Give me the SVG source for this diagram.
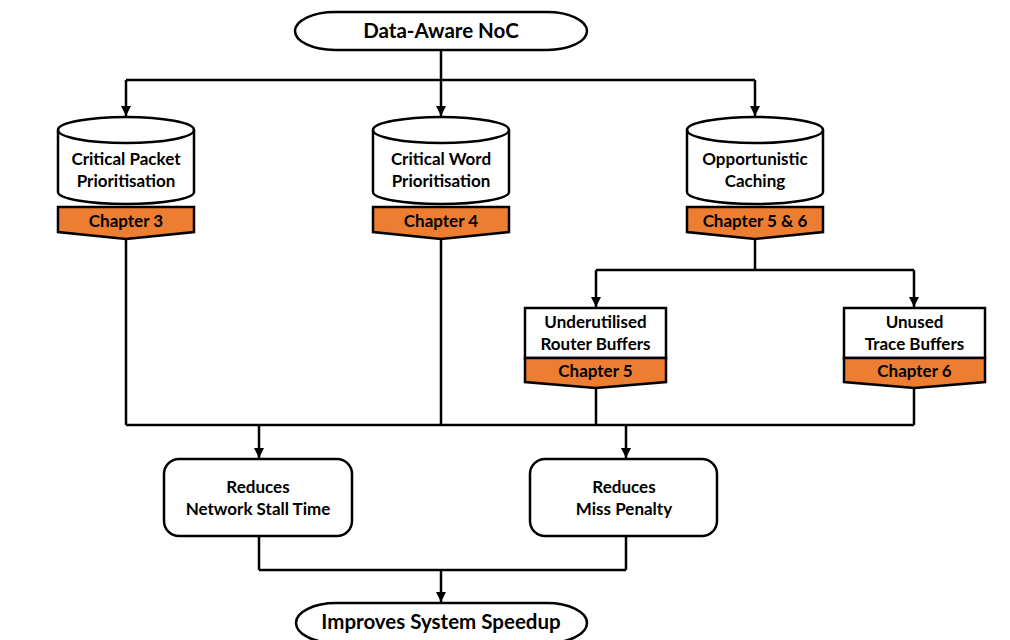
<svg xmlns="http://www.w3.org/2000/svg" width="1010" height="640" viewBox="0 0 1010 640">
  <defs>
    <marker id="arrow" viewBox="0 0 10 10" refX="10" refY="5" markerWidth="10" markerHeight="10" markerUnits="userSpaceOnUse" orient="auto">
      <path d="M0,0 L10,5 L0,10 Z" fill="#000"/>
    </marker>
  </defs>
  <style>
    .shape { fill: #fff; stroke: #000; stroke-width: 2.5; }
    .tag { fill: #ED7D31; stroke: #000; stroke-width: 2.5; stroke-linejoin: miter; }
    .wire { fill: none; stroke: #000; stroke-width: 2.5; }
    .arrow { marker-end: url(#arrow); }
    text { font-family: Lato, "Liberation Sans", sans-serif; font-weight: bold; fill: #000; text-anchor: middle; }
    .t { font-size: 17px; }
    .big { font-size: 20.5px; }
  </style>
  <rect width="1010" height="640" fill="#fff"/>

  <!-- connectors -->
  <g id="connectors">
    <path class="wire" d="M441,50 V80 M126,80 H755"/>
    <path class="wire arrow" d="M126,80 V116"/>
    <path class="wire arrow" d="M441,80 V116"/>
    <path class="wire arrow" d="M755,80 V116"/>
    <path class="wire" d="M755,239 V270 M596,270 H914"/>
    <path class="wire arrow" d="M596,270 V307"/>
    <path class="wire arrow" d="M914,270 V307"/>
    <path class="wire" d="M126,239 V425 M441,239 V425 M596,388 V425 M914,388 V425 M126,425 H914"/>
    <path class="wire arrow" d="M259,425 V458"/>
    <path class="wire arrow" d="M626,425 V458"/>
    <path class="wire" d="M259,536 V570 M626,536 V570 M259,570 H626"/>
    <path class="wire arrow" d="M441,570 V602"/>
  </g>

  <!-- start terminator -->
  <g id="data-aware-noc">
    <rect class="shape" x="295" y="12" width="292" height="38" rx="40" ry="19"/>
    <text class="big" x="441" y="38">Data-Aware NoC</text>
  </g>

  <!-- technique 1 -->
  <g id="critical-packet">
    <path class="shape" d="M58,130 A68,13 0 0 1 194,130 V192 A68,12 0 0 1 58,192 Z"/>
    <path class="wire" d="M58,130 A68,13 0 0 0 194,130"/>
    <text class="t" x="126" y="165">Critical Packet</text>
    <text class="t" x="126" y="187">Prioritisation</text>
    <path class="tag" d="M58,207 H194 V232 L126,239 L58,232 Z"/>
    <text class="t" x="126" y="227">Chapter 3</text>
  </g>

  <!-- technique 2 -->
  <g id="critical-word">
    <path class="shape" d="M373,130 A68,13 0 0 1 509,130 V192 A68,12 0 0 1 373,192 Z"/>
    <path class="wire" d="M373,130 A68,13 0 0 0 509,130"/>
    <text class="t" x="441" y="165">Critical Word</text>
    <text class="t" x="441" y="187">Prioritisation</text>
    <path class="tag" d="M373,207 H509 V232 L441,239 L373,232 Z"/>
    <text class="t" x="441" y="227">Chapter 4</text>
  </g>

  <!-- technique 3 -->
  <g id="opportunistic-caching">
    <path class="shape" d="M687,130 A68,13 0 0 1 823,130 V192 A68,12 0 0 1 687,192 Z"/>
    <path class="wire" d="M687,130 A68,13 0 0 0 823,130"/>
    <text class="t" x="755" y="165">Opportunistic</text>
    <text class="t" x="755" y="187">Caching</text>
    <path class="tag" d="M687,207 H823 V232 L755,239 L687,232 Z"/>
    <text class="t" x="755" y="227">Chapter 5 &amp; 6</text>
  </g>

  <!-- sub-technique: router buffers -->
  <g id="router-buffers">
    <rect class="shape" x="525" y="308" width="141" height="50"/>
    <text class="t" x="595.5" y="328">Underutilised</text>
    <text class="t" x="595.5" y="350">Router Buffers</text>
    <path class="tag" d="M525,358 H666 V382 L595.5,388 L525,382 Z"/>
    <text class="t" x="595.5" y="377">Chapter 5</text>
  </g>

  <!-- sub-technique: trace buffers -->
  <g id="trace-buffers">
    <rect class="shape" x="844" y="308" width="141" height="50"/>
    <text class="t" x="914.5" y="328">Unused</text>
    <text class="t" x="914.5" y="350">Trace Buffers</text>
    <path class="tag" d="M844,358 H985 V382 L914.5,388 L844,382 Z"/>
    <text class="t" x="914.5" y="377">Chapter 6</text>
  </g>

  <!-- effect 1 -->
  <g id="network-stall">
    <rect class="shape" x="164" y="459" width="188" height="77" rx="15"/>
    <text class="t" x="258" y="493">Reduces</text>
    <text class="t" x="258" y="515">Network Stall Time</text>
  </g>

  <!-- effect 2 -->
  <g id="miss-penalty">
    <rect class="shape" x="530" y="459" width="187" height="77" rx="15"/>
    <text class="t" x="624" y="493">Reduces</text>
    <text class="t" x="624" y="515">Miss Penalty</text>
  </g>

  <!-- end terminator -->
  <g id="system-speedup">
    <rect class="shape" x="296" y="603" width="291" height="40" rx="40" ry="20"/>
    <text class="big" x="441" y="629">Improves System Speedup</text>
  </g>
</svg>
